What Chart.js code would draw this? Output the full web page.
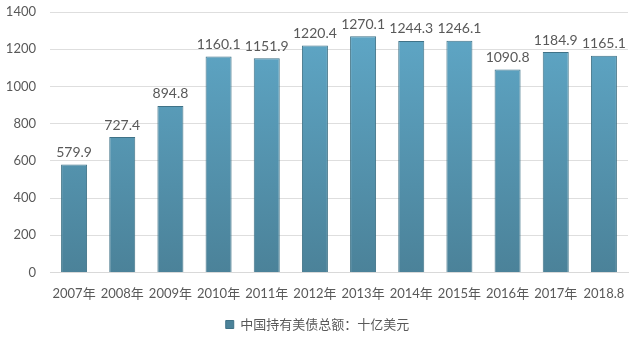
<!DOCTYPE html>
<html>
<head>
<meta charset="utf-8">
<script src="https://cdn.jsdelivr.net/npm/chart.js@4"></script>
<style>
  html, body { margin: 0; padding: 0; background: #fff; }
  #wrap { width: 640px; height: 349px; }
</style>
</head>
<body>
<div id="wrap"><canvas id="myChart"></canvas></div>
<script>
const years = ['2007年', '2008年', '2009年', '2010年', '2011年', '2012年', '2013年', '2014年', '2015年', '2016年', '2017年', '2018.8'];
const holdings = [579.9, 727.4, 894.8, 1160.1, 1151.9, 1220.4, 1270.1, 1244.3, 1246.1, 1090.8, 1184.9, 1165.1];
const seriesName = '中国持有美债总额：十亿美元';

const FONT = "Lato, 'Noto Sans CJK SC', sans-serif";

// value labels above each bar
const barLabels = {
  id: 'barLabels',
  afterDatasetsDraw(chart) {
    const ctx = chart.ctx;
    const meta = chart.getDatasetMeta(0);
    ctx.save();
    ctx.fillStyle = '#595959';
    ctx.font = '14px ' + FONT;
    ctx.textAlign = 'center';
    ctx.textBaseline = 'bottom';
    meta.data.forEach((bar, i) => {
      ctx.fillText(holdings[i].toFixed(1), bar.x, bar.y - 5);
    });
    ctx.restore();
  }
};

function barFill(context) {
  const area = context.chart.chartArea;
  if (!area) return '#5596b3';
  const g = context.chart.ctx.createLinearGradient(0, area.top, 0, area.bottom);
  g.addColorStop(0, '#60a9c9');
  g.addColorStop(1, '#4b8299');
  return g;
}

new Chart(document.getElementById('myChart'), {
  type: 'bar',
  data: {
    labels: years,
    datasets: [{
      label: seriesName,
      data: holdings,
      backgroundColor: barFill,
      borderColor: '#3f7287',
      borderWidth: 1,
      categoryPercentage: 1,
      barPercentage: 0.54
    }]
  },
  options: {
    responsive: true,
    maintainAspectRatio: false,
    animation: false,
    layout: { padding: { left: 7, right: 12, top: 12, bottom: 8 } },
    plugins: {
      legend: {
        position: 'bottom',
        labels: {
          color: '#595959',
          font: { size: 13, family: FONT },
          boxWidth: 8,
          boxHeight: 8,
          padding: 10
        }
      },
      tooltip: { enabled: false }
    },
    scales: {
      x: {
        grid: { display: false },
        border: { color: '#d9d9d9' },
        ticks: { color: '#595959', font: { size: 13, family: FONT }, maxRotation: 0, autoSkip: false, padding: 6 },
        afterFit: (scale) => { scale.paddingLeft = 0; scale.paddingRight = 0; }
      },
      y: {
        min: 0,
        max: 1400,
        ticks: {
          stepSize: 200,
          color: '#595959',
          font: { size: 13, family: FONT },
          padding: 14,
          callback: v => String(v)
        },
        grid: { color: '#dedede', drawTicks: false },
        border: { display: false },
        afterFit: (scale) => { scale.width = 43; scale.paddingTop = 0; scale.paddingBottom = 0; }
      }
    }
  },
  plugins: [barLabels]
});
</script>
</body>
</html>
